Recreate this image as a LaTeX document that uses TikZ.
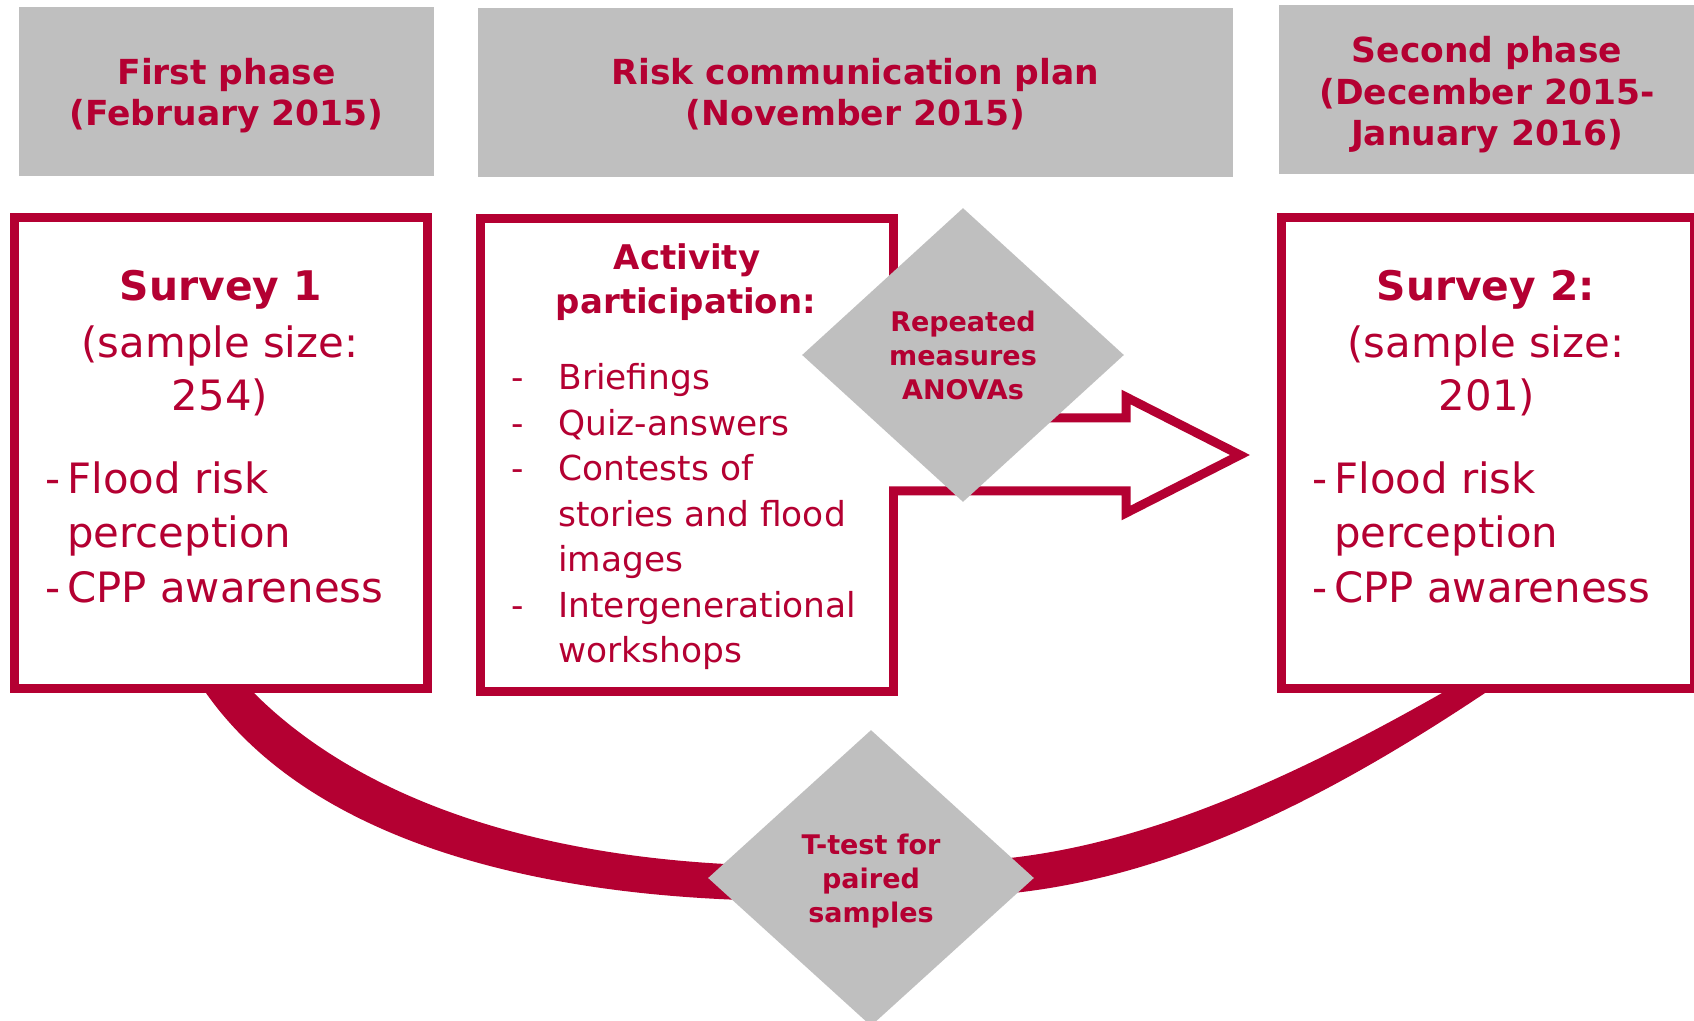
\documentclass[tikz,border=0pt]{standalone}
\usepackage{fontspec}
\setmainfont{DejaVu Sans}
\usetikzlibrary{shapes.geometric}
\definecolor{crim}{RGB}{180,0,50}
\definecolor{grayfill}{RGB}{191,191,191}
\newcommand\myfhdr{\fontsize{17.25pt}{20.75pt}\bfseries\selectfont}
\newcommand\myfsvt{\fontsize{20.4pt}{27pt}\bfseries\selectfont}
\newcommand\myfsvy{\fontsize{20.9pt}{27pt}\selectfont}
\newcommand\myfact{\fontsize{17.2pt}{22.5pt}\selectfont}
\newcommand\myfactb{\fontsize{17pt}{20pt}\bfseries\selectfont}
\newcommand\myfdia{\fontsize{13.5pt}{17pt}\bfseries\selectfont}
\tikzset{
  hdrbox/.style={fill=grayfill, draw=none, inner sep=0pt},
  mainbox/.style={draw=crim, line width=4.5pt, fill=white, inner sep=0pt},
  testdia/.style={diamond, fill=grayfill, draw=none, inner sep=0pt, align=center, text=crim, font=\myfdia},
  txt/.style={text=crim, inner sep=0pt, anchor=base},
  ltxt/.style={txt, anchor=base west},
  hdrtxt/.style={txt, font=\myfhdr},
  svtitle/.style={txt, font=\myfsvt},
  svtxt/.style={txt, font=\myfsvy},
  svltxt/.style={ltxt, font=\myfsvy},
  acttitle/.style={txt, font=\myfactb},
  actltxt/.style={ltxt, font=\myfact},
  blockarrow/.style={draw=crim, line width=4.5pt, line join=miter},
  band/.style={fill=crim, draw=none}
}
\begin{document}
\begin{tikzpicture}[x=0.5pt,y=-0.5pt]
\useasboundingbox (0,0) rectangle (1694,1021);
\fill[white] (0,0) rectangle (1694,1021);
\clip (0,0) rectangle (1694,1021);

% header boxes
\node[hdrbox, minimum width=207.5pt, minimum height=84.5pt] (h1) at (226.5,91.5) {};
\node[hdrbox, minimum width=377.5pt, minimum height=84.5pt] (h2) at (855.5,92.5) {};
\node[hdrbox, minimum width=210.5pt, minimum height=84.5pt] (h3) at (1489.5,89.5) {};

% bottom arc band linking the two surveys (passes under the T-test diamond)
\path[band] (199,683) -- (206,693)
  .. controls (301,828) and (509,901) .. (800,901)
  -- (940,897)
  .. controls (1107,897) and (1271,836) .. (1485,693)
  -- (1497,684) -- (1455,684) -- (1442,693)
  .. controls (1235,811) and (1084,862) .. (940,862)
  -- (800,866)
  .. controls (557.5,866) and (366.5,805.5) .. (254,693)
  -- (245,684) -- cycle;

% main boxes
\node[mainbox, minimum width=206.5pt, minimum height=235.5pt] (s1) at (221,453) {};
\node[mainbox, minimum width=206.5pt, minimum height=236.5pt] (act) at (687,455) {};
\node[mainbox, minimum width=206.5pt, minimum height=235.5pt] (s2) at (1488,453) {};

% block arrow out of the activity box
\fill[white] (880,418) -- (1126,418) -- (1126,397) -- (1240,455) -- (1126,513) -- (1126,487) -- (880,487) -- cycle;
\draw[blockarrow] (889,491) -- (1126,491) -- (1126,513) -- (1240,455) -- (1126,397) -- (1126,418) -- (1000,418);

% diamonds
\node[testdia, minimum width=161pt, minimum height=147pt] (d1) at (963,355) {Repeated\\measures\\ANOVAs};
\node[testdia, minimum width=163pt, minimum height=148pt] (d2) at (871,878) {\rule{0pt}{13pt}T-test for\\paired\\samples};

% header texts
\node[hdrtxt] (h1a) at (226.5,85) {First phase};
\node[hdrtxt] (h1b) at (226.5,126) {(February 2015)};
\node[hdrtxt] (h2a) at (855.5,85) {Risk communication plan};
\node[hdrtxt] (h2b) at (855.5,126) {(November 2015)};
\node[hdrtxt] (h3a) at (1487,63) {Second phase};
\node[hdrtxt] (h3b) at (1487,104.5) {(December 2015-};
\node[hdrtxt] (h3c) at (1487,146) {January 2016)};

% survey 1
\node[svtitle] (s1t) at (221,301) {Survey 1};
\node[svtxt] (s1s) at (220,358) {(sample size:};
\node[svtxt] (s1n) at (220,411) {254)};
\node[svltxt] (s1d1) at (45,494) {-};
\node[svltxt] (s1l1) at (67,494) {Flood risk};
\node[svltxt] (s1l2) at (67,548) {perception};
\node[svltxt] (s1d2) at (45,603) {-};
\node[svltxt] (s1l3) at (67,603) {CPP awareness};

% survey 2
\node[svtitle] (s2t) at (1486,301) {Survey 2:};
\node[svtxt] (s2s) at (1486,358) {(sample size:};
\node[svtxt] (s2n) at (1487,411) {201)};
\node[svltxt] (s2d1) at (1312,494) {-};
\node[svltxt] (s2l1) at (1334,494) {Flood risk};
\node[svltxt] (s2l2) at (1334,548) {perception};
\node[svltxt] (s2d2) at (1312,603) {-};
\node[svltxt] (s2l3) at (1334,603) {CPP awareness};

% activity box
\node[acttitle] (aa) at (687,270) {Activity};
\node[acttitle] (ab) at (686,314) {participation:};
\node[actltxt] (ad1) at (511,390) {-};
\node[actltxt] (al1) at (558,390) {Briefings};
\node[actltxt] (ad2) at (511,435.5) {-};
\node[actltxt] (al2) at (558,435.5) {Quiz-answers};
\node[actltxt] (ad3) at (511,481) {-};
\node[actltxt] (al3) at (558,481) {Contests of};
\node[actltxt] (al4) at (558,526.5) {stories and flood};
\node[actltxt] (al5) at (558,572) {images};
\node[actltxt] (ad4) at (511,617.5) {-};
\node[actltxt] (al6) at (558,617.5) {Intergenerational};
\node[actltxt] (al7) at (558,663) {workshops};
\end{tikzpicture}
\end{document}
